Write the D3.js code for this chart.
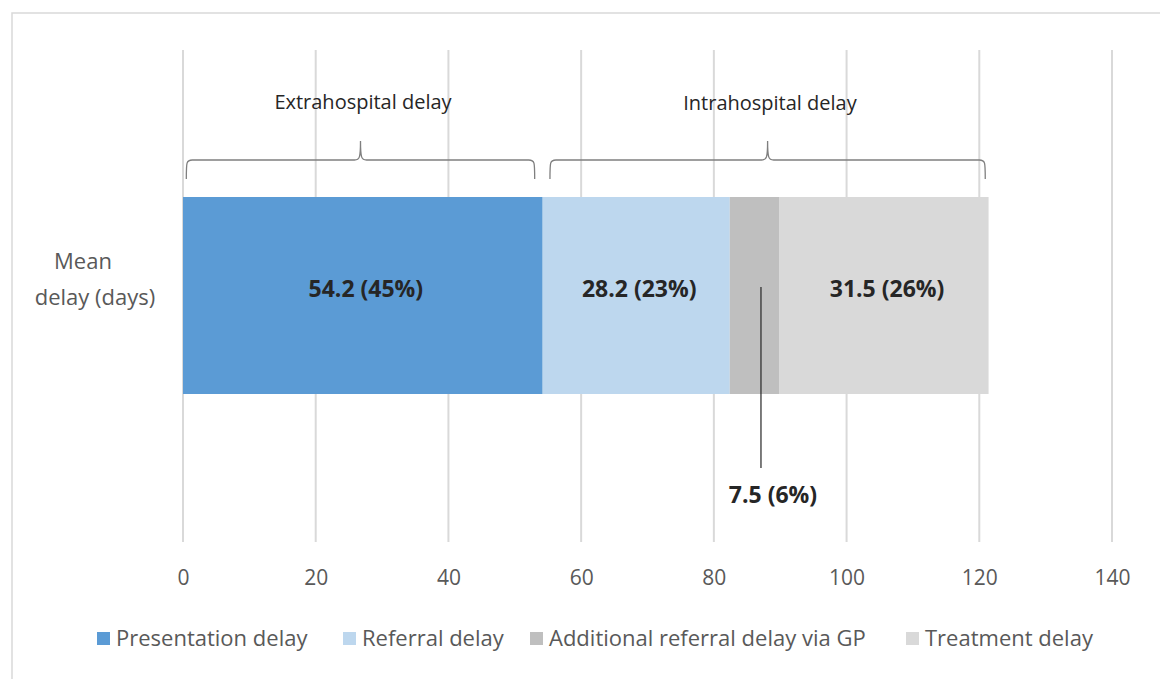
<!DOCTYPE html>
<html>
<head>
<meta charset="utf-8">
<script src="https://cdn.jsdelivr.net/npm/d3@7"></script>
<style>
  html, body { margin: 0; padding: 0; background: #fff; }
  svg { display: block; }
  text { font-family: "Open Sans", Lato, sans-serif; }
</style>
</head>
<body>
<svg id="chart" width="1160" height="679"></svg>
<script>
// ---- data ----
const categories = ["Presentation delay", "Referral delay", "Additional referral delay via GP", "Treatment delay"];
const values = [54.2, 28.2, 7.5, 31.5];
const labels = ["54.2 (45%)", "28.2 (23%)", "7.5 (6%)", "31.5 (26%)"];
const colors = ["#5b9bd5", "#bdd7ee", "#bfbfbf", "#d9d9d9"];
const ticks = [0, 20, 40, 60, 80, 100, 120, 140];
const rowLabel = ["Mean", "delay (days)"];
const groupNames = ["Extrahospital delay", "Intrahospital delay"];
const groupStart = [0.5, 55.3];
const groupEnd = [53.0, 120.9];
const calloutValue = 87.1; // x position (days) of callout leader line

const svg = d3.select("#chart");
const FONT = "'Open Sans', Lato, sans-serif";

// outer border
svg.append("rect").attr("x", 12).attr("y", 13).attr("width", 1160).attr("height", 700)
  .attr("fill", "none").attr("stroke", "#d9d9d9").attr("stroke-width", 1.5);

const x = d3.scaleLinear().domain([0, 140]).range([183, 1112]);

// gridlines
svg.append("g").selectAll("line").data(ticks).join("line")
  .attr("x1", d => x(d)).attr("x2", d => x(d))
  .attr("y1", 50).attr("y2", 542)
  .attr("stroke", "#d9d9d9").attr("stroke-width", 2);

// axis
const axis = d3.axisBottom(x).tickValues(ticks).tickSize(0).tickPadding(0);
const ax = svg.append("g").attr("transform", "translate(0,585)").call(axis);
ax.select(".domain").remove();
ax.selectAll("text").attr("font-size", 21).attr("fill", "#595959")
  .attr("dy", 0).attr("font-family", FONT);

// stacked segments
let acc = 0;
const segs = values.map((v, i) => { const s = { i, x0: acc, x1: acc + v, v }; acc += v; return s; });
const barY = 197, barH = 197;

svg.append("g").selectAll("rect").data(segs).join("rect")
  .attr("x", d => x(d.x0)).attr("width", d => x(d.x1) - x(d.x0))
  .attr("y", barY).attr("height", barH)
  .attr("fill", d => colors[d.i]);

// data labels (inside except small one)
svg.append("g").selectAll("text").data(segs.filter(d => d.i !== 2)).join("text")
  .attr("x", d => x((d.x0 + d.x1) / 2) + 3).attr("y", barY + barH / 2 + 1)
  .attr("text-anchor", "middle").attr("font-size", 23).attr("font-weight", "bold")
  .attr("fill", "#262626").text(d => labels[d.i]);

// callout for small segment
svg.append("line").attr("x1", x(calloutValue)).attr("x2", x(calloutValue))
  .attr("y1", 287).attr("y2", 468).attr("stroke", "#262626").attr("stroke-width", 1.2);
svg.append("text").attr("x", x(calloutValue) + 12).attr("y", 503)
  .attr("text-anchor", "middle").attr("font-size", 23).attr("font-weight", "bold")
  .attr("fill", "#262626").text(labels[2]);

// row label
svg.append("text").attr("x", 83).attr("y", 269).attr("text-anchor", "middle")
  .attr("font-size", 22).attr("fill", "#595959").text(rowLabel[0]);
svg.append("text").attr("x", 95).attr("y", 305).attr("text-anchor", "middle")
  .attr("font-size", 22).attr("fill", "#595959").text(rowLabel[1]);

// braces
function bracePath(a, b) {
  const x0 = x(a), x1 = x(b), m = (x0 + x1) / 2;
  const yb = 160, ye = 179, yt = 141, r = 6;
  return `M${x0},${ye} C${x0},${yb + 2} ${x0},${yb} ${x0 + r},${yb} L${m - r},${yb} C${m - 1},${yb} ${m},${yb - 2} ${m},${yt}` +
         ` C${m},${yb - 2} ${m + 1},${yb} ${m + r},${yb} L${x1 - r},${yb} C${x1},${yb} ${x1},${yb + 2} ${x1},${ye}`;
}
groupNames.forEach((g, i) => {
  svg.append("path").attr("d", bracePath(groupStart[i], groupEnd[i]))
    .attr("fill", "none").attr("stroke", "#7f7f7f").attr("stroke-width", 1.3);
});
svg.append("text").attr("x", 363).attr("y", 109).attr("text-anchor", "middle")
  .attr("font-size", 20).attr("fill", "#262626").text(groupNames[0]);
svg.append("text").attr("x", 770).attr("y", 110).attr("text-anchor", "middle")
  .attr("font-size", 20).attr("fill", "#262626").text(groupNames[1]);

// legend
const legX = [97, 343, 530, 906];
const lg = svg.append("g").selectAll("g").data(categories).join("g")
  .attr("transform", (d, i) => `translate(${legX[i]},638)`);
lg.append("rect").attr("x", 0).attr("y", -6).attr("width", 13).attr("height", 13)
  .attr("fill", (d, i) => colors[i]);
lg.append("text").attr("x", 19).attr("y", 8).attr("font-size", 22)
  .attr("fill", "#595959").text(d => d);
</script>
</body>
</html>
